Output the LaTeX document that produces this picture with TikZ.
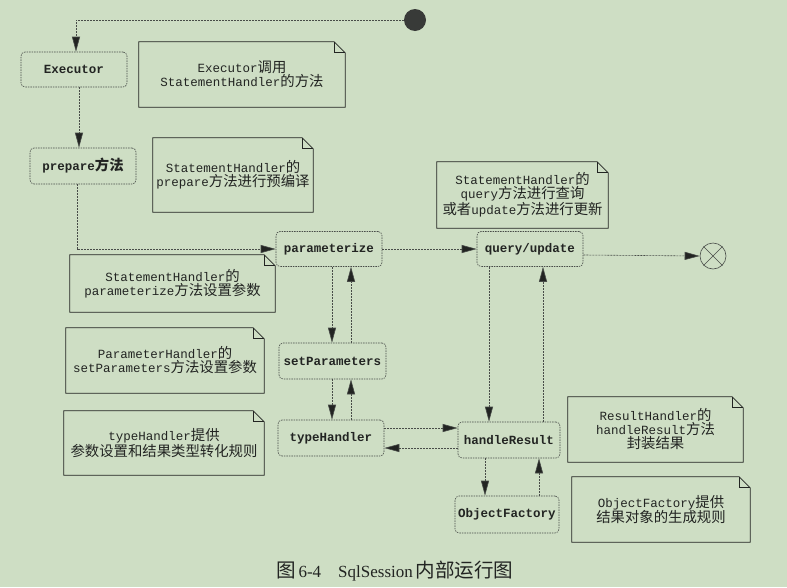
\documentclass[tikz,border=0pt]{standalone}
\usepackage{fontspec}
\setmainfont{Liberation Serif}
\setmonofont{Liberation Mono}
\newfontfamily\zhfont[Scale=1.15]{Noto Sans CJK SC}
\newcommand\zh[1]{{\zhfont #1}}
\usetikzlibrary{arrows.meta}
\definecolor{paper}{RGB}{206,222,196}
\definecolor{edge}{RGB}{72,76,72}
\definecolor{ink}{RGB}{34,36,34}
% outline of a note card with a folded top-right corner
\newcommand\dogear[1]{%
  \draw[noteline] (#1.north west) -- ([xshift=-11pt]#1.north east)
    -- ([yshift=-11pt]#1.north east) -- (#1.south east) -- (#1.south west) -- cycle;
  \draw[noteline] ([xshift=-11pt]#1.north east) |- ([yshift=-11pt]#1.north east);}
\begin{document}
\begin{tikzpicture}[x=1pt,y=-1pt,
  state/.style={draw=edge, line width=0.6pt, dash pattern=on 1.5pt off 1pt,
    rounded corners=4pt, fill=paper, inner sep=0pt, text=ink,
    font=\ttfamily\bfseries\fontsize{12.5}{14}\selectfont},
  note/.style={inner sep=0pt, align=center, text=ink,
    font=\ttfamily\fontsize{12.5}{14}\selectfont},
  noteline/.style={draw=ink, line width=0.7pt},
  flow/.style={draw=edge, line width=0.6pt, dash pattern=on 2pt off 1pt,
    -{Triangle[length=15pt,width=8pt,fill=ink]}},
]
\fill[paper] (0,0) rectangle (787,587);
\useasboundingbox (0,0) rectangle (787,587);

% activity states
\node[state, minimum width=106pt, minimum height=35pt] (exec)  at (74,69.5)  {Executor};
\node[state, minimum width=106pt, minimum height=36pt] (prep)  at (83,166)   {prepare\zh{方法}};
\node[state, minimum width=106pt, minimum height=35pt] (param) at (329,249)  {parameterize};
\node[state, minimum width=107pt, minimum height=36pt] (setp)  at (332.5,361) {setParameters};
\node[state, minimum width=106pt, minimum height=36pt] (typeh) at (331,438)  {typeHandler};
\node[state, minimum width=102pt, minimum height=36pt] (handr) at (509,440)  {handleResult};
\node[state, minimum width=104pt, minimum height=37pt] (objf)  at (507,514.5) {ObjectFactory};
\node[state, minimum width=106pt, minimum height=35pt] (query) at (530,249)  {query/update};

% initial and final states
\node[circle, fill=ink!90, minimum size=22pt, inner sep=0pt] (start) at (415,20) {};
\node[circle, draw=edge, line width=0.6pt, fill=paper, minimum size=26pt, inner sep=0pt] (final) at (713,256) {};
\draw[edge, line width=0.5pt] (final.north east) -- (final.south west)
  (final.north west) -- (final.south east);

% note cards
\node[note, minimum width=206pt, minimum height=65pt] (n1) at (242,74.5)
  {Executor\zh{调用}\\StatementHandler\zh{的方法}};
\node[note, minimum width=160pt, minimum height=74pt] (n2) at (233,175)
  {StatementHandler\zh{的}\\prepare\zh{方法进行预编译}};
\node[note, minimum width=205pt, minimum height=57pt] (n3) at (172.5,283.5)
  {StatementHandler\zh{的}\\parameterize\zh{方法设置参数}};
\node[note, minimum width=198pt, minimum height=65pt] (n4) at (165,360.5)
  {ParameterHandler\zh{的}\\setParameters\zh{方法设置参数}};
\node[note, minimum width=200pt, minimum height=64pt] (n5) at (164,443)
  {typeHandler\zh{提供}\\\zh{参数设置和结果类型转化规则}};
\node[note, minimum width=171pt, minimum height=66pt] (n6) at (522.5,195)
  {StatementHandler\zh{的}\\query\zh{方法进行查询}\\\zh{或者}update\zh{方法进行更新}};
\node[note, minimum width=175pt, minimum height=65pt] (n7) at (655.5,429.5)
  {ResultHandler\zh{的}\\handleResult\zh{方法}\\\zh{封装结果}};
\node[note, minimum width=178pt, minimum height=65pt] (n8) at (661,509.5)
  {ObjectFactory\zh{提供}\\\zh{结果对象的生成规则}};
\foreach \n in {n1,n2,n3,n4,n5,n6,n7,n8} {\dogear{\n}}

% columns and rows of the paired connectors
\coordinate (cA) at (332,0);
\coordinate (cB) at (351,0);
\coordinate (cC) at (489,0);
\coordinate (cD) at (543,0);
\coordinate (cE) at (485,0);
\coordinate (cF) at (539,0);
\coordinate (rA) at (0,428);
\coordinate (rB) at (0,448);

% connectors
\draw[flow] (start.west) -| ([xshift=2pt]exec.north);
\draw[flow] ([xshift=5pt]exec.south) -- ([xshift=-4pt]prep.north);
\draw[flow] ([xshift=-6pt]prep.south) |- (param.west);
\draw[flow] (param.east) -- (query.west);
\draw[flow] (param.south -| cA) -- (setp.north -| cA);
\draw[flow] (setp.north -| cB) -- (param.south -| cB);
\draw[flow] (setp.south -| cA) -- (typeh.north -| cA);
\draw[flow] (typeh.north -| cB) -- (setp.south -| cB);
\draw[flow] (typeh.east |- rA) -- (handr.west |- rA);
\draw[flow] (handr.west |- rB) -- (typeh.east |- rB);
\draw[flow] (query.south -| cC) -- (handr.north -| cC);
\draw[flow] (handr.north -| cD) -- (query.south -| cD);
\draw[flow] (handr.south -| cE) -- (objf.north -| cE);
\draw[flow] (objf.north -| cF) -- (handr.south -| cF);
\draw[flow] ([yshift=-6pt]query.east) -- (final.west);

% caption
\node[anchor=west, inner sep=0pt, text=ink, font=\fontsize{17}{20}\selectfont] (cap) at (276,571)
  {\zh{图}\,6-4\quad SqlSession\,\zh{内部运行图}};
\end{tikzpicture}
\end{document}
